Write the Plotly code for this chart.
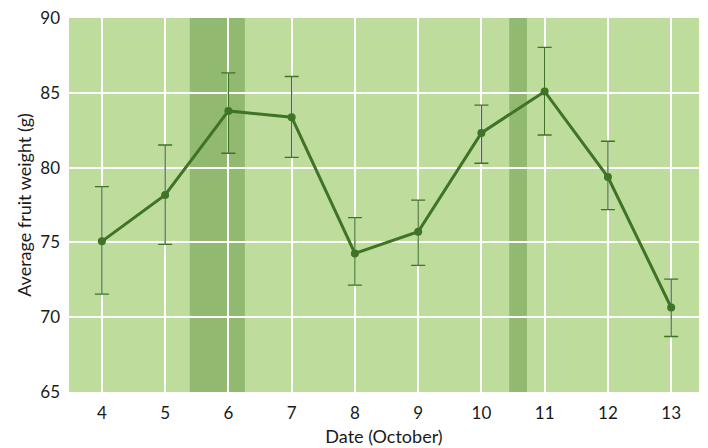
import plotly.graph_objects as go

dates = [4, 5, 6, 7, 8, 9, 10, 11, 12, 13]
weights = [75.07, 78.17, 83.79, 83.37, 74.26, 75.71, 82.32, 85.09, 79.37, 70.65]
err_upper = [78.73, 81.51, 86.33, 86.09, 76.65, 77.83, 84.17, 88.03, 81.76, 72.55]
err_lower = [71.54, 74.87, 80.96, 80.69, 72.14, 73.46, 80.29, 82.18, 77.19, 68.71]
band_starts = [5.39, 10.44]
band_ends = [6.26, 10.72]
y_ticks = [65, 70, 75, 80, 85, 90]

plus = [u - w for u, w in zip(err_upper, weights)]
minus = [w - l for w, l in zip(weights, err_lower)]

LINE = "#3f7326"
FONT = "Lato, 'Open Sans', sans-serif"

fig = go.Figure()
fig.add_trace(go.Scatter(
    x=dates, y=weights, mode="lines+markers",
    line=dict(color=LINE, width=3),
    marker=dict(color=LINE, size=8),
    error_y=dict(type="data", symmetric=False, array=plus, arrayminus=minus,
                 color=LINE, thickness=1.3, width=7),
    showlegend=False,
))

for x0, x1 in zip(band_starts, band_ends):
    fig.add_shape(type="rect", xref="x", yref="paper", x0=x0, x1=x1, y0=0, y1=1,
                  fillcolor="rgba(100,150,68,0.5)", line=dict(width=0), layer="between")

# page body has an 8px default margin, so the figure is sized 700x440
fig.update_layout(
    width=700, height=440,
    margin=dict(l=61, r=9, t=10, b=56, autoexpand=False),
    paper_bgcolor="white",
    plot_bgcolor="#bedc9c",
    font=dict(family=FONT, size=17, color="#1a1a1a"),
)
fig.update_xaxes(
    range=[3.48, 13.44], tickvals=dates, ticktext=[str(d) for d in dates],
    showgrid=True, gridcolor="white", gridwidth=1.5, zeroline=False,
    showline=False, ticks="", ticklen=0, automargin=False, ticklabelstandoff=9,
    ticklabeloverflow="allow",
    title=dict(text="Date (October)", font=dict(size=18, family=FONT), standoff=8),
    tickfont=dict(size=17, family=FONT),
)
fig.update_yaxes(
    range=[65, 90], tickvals=y_ticks,
    showgrid=True, gridcolor="white", gridwidth=1.5, zeroline=False,
    showline=False, ticks="", automargin=False, ticklabelstandoff=8,
    ticklabeloverflow="allow",
    title=dict(text="Average fruit weight (g)", font=dict(size=18, family=FONT), standoff=3),
    tickfont=dict(size=17, family=FONT),
)

fig.write_html("out.html")
